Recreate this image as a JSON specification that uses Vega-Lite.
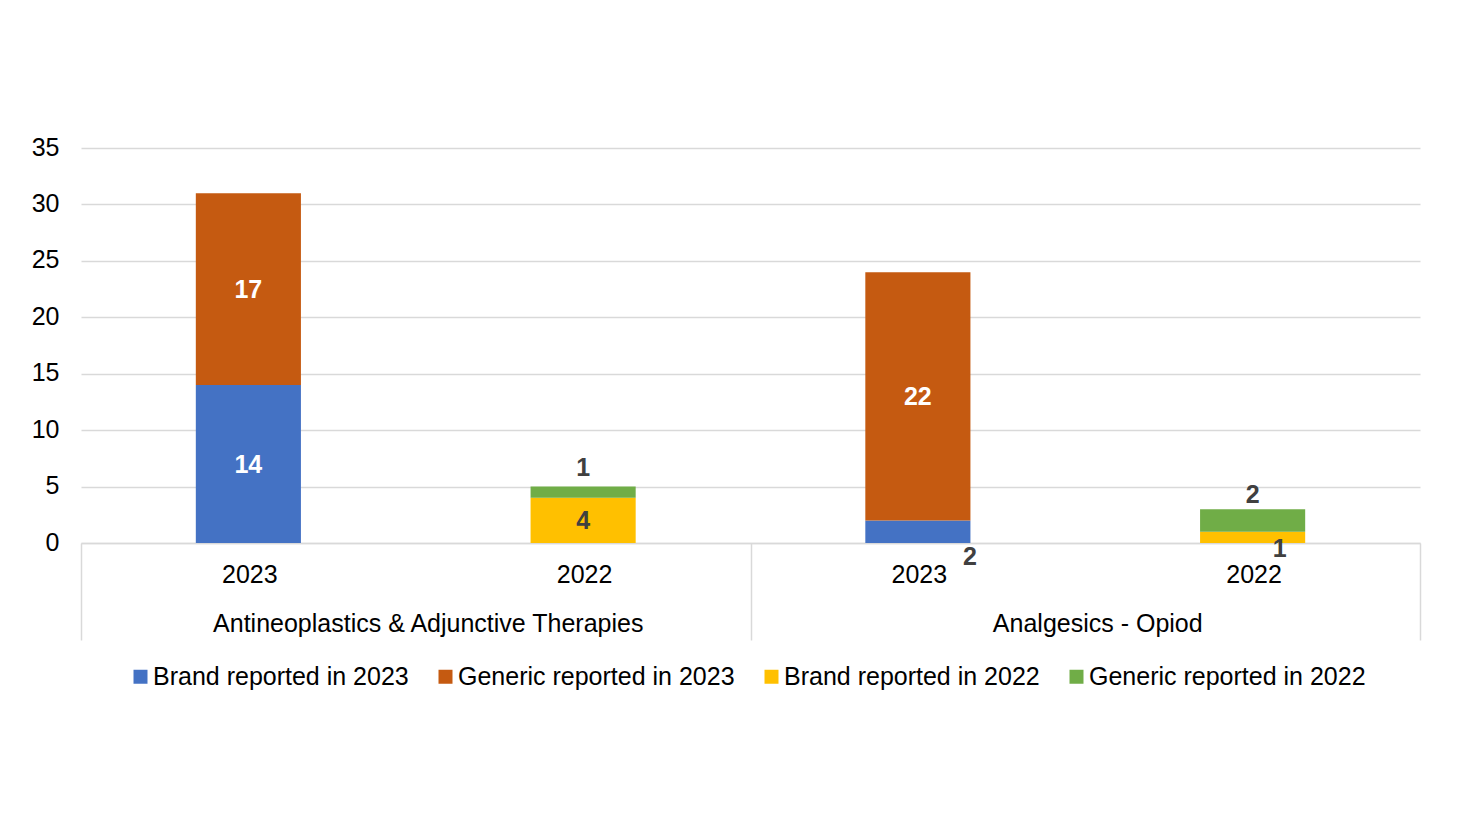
{
  "$schema": "https://vega.github.io/schema/vega-lite/v6.json",
  "width": 1339,
  "height": 395,
  "autosize": {"type": "none"},
  "padding": {"left": 81, "top": 148, "right": 44, "bottom": 270},
  "background": "white",
  "config": {"font": "Liberation Sans", "view": {"stroke": null}},
  "datasets": {
    "bars": [
      {"key": "Antineoplastics & Adjunctive Therapies|2023", "series": "Brand reported in 2023", "value": 14},
      {"key": "Antineoplastics & Adjunctive Therapies|2023", "series": "Generic reported in 2023", "value": 17},
      {"key": "Antineoplastics & Adjunctive Therapies|2022", "series": "Brand reported in 2022", "value": 4},
      {"key": "Antineoplastics & Adjunctive Therapies|2022", "series": "Generic reported in 2022", "value": 1},
      {"key": "Analgesics - Opiod|2023", "series": "Brand reported in 2023", "value": 2},
      {"key": "Analgesics - Opiod|2023", "series": "Generic reported in 2023", "value": 22},
      {"key": "Analgesics - Opiod|2022", "series": "Brand reported in 2022", "value": 1},
      {"key": "Analgesics - Opiod|2022", "series": "Generic reported in 2022", "value": 2}
    ],
    "groups": [
      {"group": "Antineoplastics & Adjunctive Therapies"},
      {"group": "Analgesics - Opiod"}
    ]
  },
  "layer": [
    {
      "data": {"name": "bars"},
      "transform": [
        {"stack": "value", "groupby": ["key"], "sort": [{"field": "series", "order": "ascending"}], "as": ["v0", "v1"]},
        {"calculate": "(datum.v0 + datum.v1) / 2", "as": "mid"}
      ],
      "encoding": {
        "x": {
          "field": "key",
          "type": "nominal",
          "sort": ["Antineoplastics & Adjunctive Therapies|2023", "Antineoplastics & Adjunctive Therapies|2022", "Analgesics - Opiod|2023", "Analgesics - Opiod|2022"],
          "scale": {"type": "band", "paddingInner": 0.686, "paddingOuter": 0.343},
          "title": null
        }
      },
      "layer": [
        {
          "mark": {"type": "bar"},
          "encoding": {
            "x": {
              "field": "key",
              "type": "nominal",
              "sort": ["Antineoplastics & Adjunctive Therapies|2023", "Antineoplastics & Adjunctive Therapies|2022", "Analgesics - Opiod|2023", "Analgesics - Opiod|2022"],
              "scale": {"type": "band", "paddingInner": 0.686, "paddingOuter": 0.343},
              "axis": {
                "title": null, "orient": "bottom", "labelExpr": "split(datum.label, '|')[1]",
                "ticks": false, "domainColor": "#d9d9d9", "domainWidth": 1.5, "grid": false,
                "labelFontSize": 25, "labelColor": "#000000", "labelPadding": 19, "labelAngle": 0, "labelOffset": 1.5
              }
            },
            "y": {
              "field": "v1", "type": "quantitative",
              "scale": {"domain": [0, 35], "nice": false},
              "axis": {
                "title": null, "values": [0, 5, 10, 15, 20, 25, 30, 35], "ticks": false, "domain": false,
                "gridColor": "#d9d9d9", "gridWidth": 1.5, "labelFontSize": 25, "labelColor": "#000000", "labelPadding": 22, "labelOffset": -1
              }
            },
            "y2": {"field": "v0"},
            "color": {
              "field": "series", "type": "nominal",
              "scale": {
                "domain": ["Brand reported in 2023", "Generic reported in 2023", "Brand reported in 2022", "Generic reported in 2022"],
                "range": ["#4472C4", "#C55A11", "#FFC000", "#70AD47"]
              },
              "legend": {
                "title": null, "orient": "none", "legendX": 47, "legendY": 516, "direction": "horizontal", "symbolType": "square",
                "symbolSize": 196, "symbolStrokeWidth": 0, "labelFontSize": 25, "labelColor": "#000000",
                "columnPadding": 24, "labelOffset": 0, "labelLimit": 0
              }
            }
          }
        },
        {
          "transform": [{"filter": "datum.value >= 4"}],
          "mark": {"type": "text", "fontSize": 25, "fontWeight": "bold", "baseline": "middle", "align": "center", "dy": 1},
          "encoding": {
            "y": {"field": "mid", "type": "quantitative"},
            "text": {"field": "value", "type": "quantitative"},
            "color": {"condition": {"test": "datum.series === 'Brand reported in 2022'", "value": "#404040"}, "value": "#ffffff"}
          }
        },
        {
          "transform": [{"filter": "datum.series === 'Generic reported in 2022' && datum.value == 1"}],
          "mark": {"type": "text", "fontSize": 25, "fontWeight": "bold", "baseline": "bottom", "align": "center", "dy": -6, "color": "#404040"},
          "encoding": {
            "y": {"field": "v1", "type": "quantitative"},
            "text": {"field": "value", "type": "quantitative"}
          }
        },
        {
          "transform": [{"filter": "datum.series === 'Generic reported in 2022' && datum.value == 2"}],
          "mark": {"type": "text", "fontSize": 25, "fontWeight": "bold", "baseline": "bottom", "align": "center", "dy": -1, "color": "#404040"},
          "encoding": {
            "y": {"field": "v1", "type": "quantitative"},
            "text": {"field": "value", "type": "quantitative"}
          }
        },
        {
          "transform": [{"filter": "datum.value < 4 && datum.series === 'Brand reported in 2023'"}],
          "mark": {"type": "text", "fontSize": 25, "fontWeight": "bold", "baseline": "top", "align": "center", "dx": 52, "dy": 2, "color": "#404040"},
          "encoding": {
            "y": {"field": "v0", "type": "quantitative"},
            "text": {"field": "value", "type": "quantitative"}
          }
        },
        {
          "transform": [{"filter": "datum.value < 4 && datum.series === 'Brand reported in 2022'"}],
          "mark": {"type": "text", "fontSize": 25, "fontWeight": "bold", "baseline": "top", "align": "center", "dx": 27, "dy": -6, "color": "#404040"},
          "encoding": {
            "y": {"field": "v0", "type": "quantitative"},
            "text": {"field": "value", "type": "quantitative"}
          }
        }
      ]
    },
    {
      "data": {"name": "groups"},
      "mark": {"type": "point", "opacity": 0},
      "encoding": {
        "x": {
          "field": "group", "type": "nominal",
          "sort": ["Antineoplastics & Adjunctive Therapies", "Analgesics - Opiod"],
          "scale": {"type": "band", "paddingInner": 0, "paddingOuter": 0},
          "axis": {
            "title": null, "orient": "bottom", "domain": false, "tickBand": "extent", "tickSize": 97,
            "tickColor": "#d9d9d9", "tickWidth": 1.5, "labelPadding": -29, "labelFontSize": 25,
            "labelColor": "#000000", "labelAngle": 0, "labelLimit": 0, "labelOffset": 12
          }
        }
      }
    }
  ],
  "resolve": {"scale": {"x": "independent"}, "axis": {"x": "independent"}}
}
